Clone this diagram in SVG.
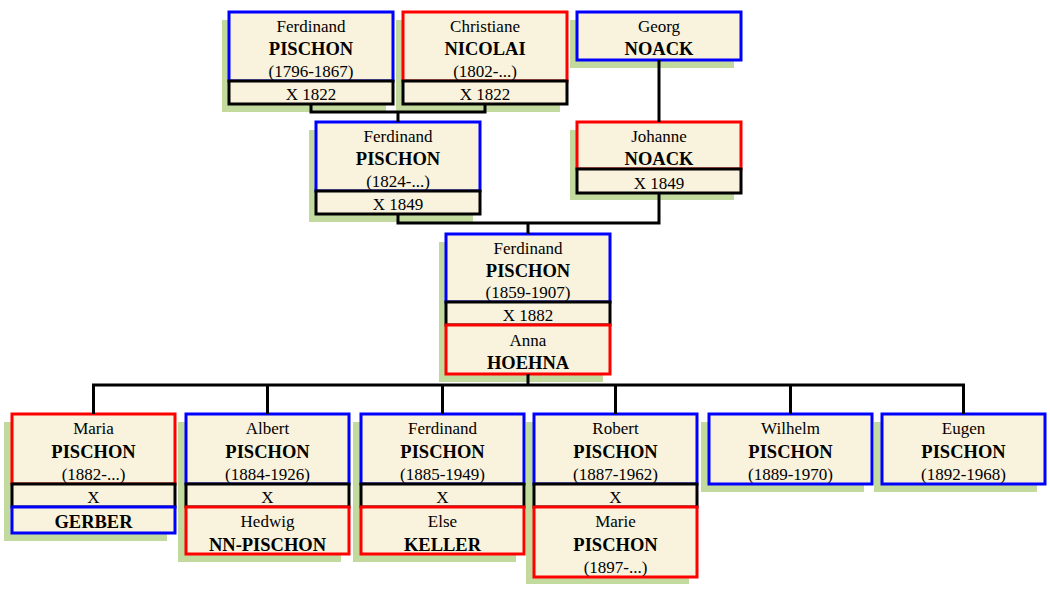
<svg xmlns="http://www.w3.org/2000/svg" width="1050" height="610" viewBox="0 0 1050 610" font-family="'Liberation Serif', 'DejaVu Serif', serif">
<style>
.sh{fill:#c3da9e}
.b{fill:#f9f2dc;stroke:#0000ff;stroke-width:3}
.r{fill:#f9f2dc;stroke:#ff0000;stroke-width:3}
.m{fill:#f9f2dc;stroke:#000;stroke-width:3}
text{font-family:'Liberation Serif','DejaVu Serif',serif;font-size:17px;fill:#000;text-anchor:middle}
.s{font-weight:bold;font-size:18.5px}
.c{fill:none;stroke:#000;stroke-width:3}
</style>
<rect width="1050" height="610" fill="#fff"/>
<g id="n-ferdinand-1796">
<rect class="sh" x="222" y="20" width="164" height="92"/>
<rect class="b" x="229" y="12" width="164" height="69"/>
<rect class="m" x="229" y="81" width="164" height="23"/>
<text x="311" y="32">Ferdinand</text><text class="s" x="311" y="55">PISCHON</text><text x="311" y="76.5">(1796-1867)</text><text x="311" y="100">X 1822</text>
</g>
<g id="n-christiane">
<rect class="sh" x="396" y="20" width="164" height="92"/>
<rect class="r" x="403" y="12" width="164" height="69"/>
<rect class="m" x="403" y="81" width="164" height="23"/>
<text x="485" y="32">Christiane</text><text class="s" x="485" y="55">NICOLAI</text><text x="485" y="76.5">(1802-...)</text><text x="485" y="100">X 1822</text>
</g>
<g id="n-georg">
<rect class="sh" x="570" y="20" width="164" height="48"/>
<rect class="b" x="577" y="12" width="164" height="48"/>
<text x="659" y="32">Georg</text><text class="s" x="659" y="55">NOACK</text>
</g>
<g id="n-ferdinand-1824">
<rect class="sh" x="309" y="130" width="164" height="92"/>
<rect class="b" x="316" y="122" width="164" height="69"/>
<rect class="m" x="316" y="191" width="164" height="23"/>
<text x="398" y="142">Ferdinand</text><text class="s" x="398" y="165">PISCHON</text><text x="398" y="186.5">(1824-...)</text><text x="398" y="210">X 1849</text>
</g>
<g id="n-johanne">
<rect class="sh" x="570" y="130" width="164" height="70"/>
<rect class="r" x="577" y="122" width="164" height="47"/>
<rect class="m" x="577" y="169" width="164" height="24"/>
<text x="659" y="142">Johanne</text><text class="s" x="659" y="165">NOACK</text><text x="659" y="189">X 1849</text>
</g>
<g id="n-ferdinand-1859">
<rect class="sh" x="439" y="242" width="164" height="140"/>
<rect class="b" x="446" y="234" width="164" height="68"/>
<rect class="m" x="446" y="302" width="164" height="23"/>
<rect class="r" x="446" y="325" width="164" height="49"/>
<text x="528" y="254">Ferdinand</text><text class="s" x="528" y="277">PISCHON</text><text x="528" y="298">(1859-1907)</text><text x="528" y="321">X 1882</text>
<text x="528" y="346">Anna</text><text class="s" x="528" y="369">HOEHNA</text>
</g>
<g id="n-maria">
<rect class="sh" x="4" y="422" width="163" height="119"/>
<rect class="r" x="12" y="414" width="163" height="70"/>
<rect class="m" x="12" y="484" width="163" height="23"/>
<rect class="b" x="12" y="507" width="163" height="26"/>
<text x="93.5" y="434">Maria</text><text class="s" x="93.5" y="458">PISCHON</text><text x="93.5" y="480">(1882-...)</text><text x="93.5" y="503">X</text><text class="s" x="93.5" y="528">GERBER</text>
</g>
<g id="n-albert">
<rect class="sh" x="178" y="422" width="163" height="140"/>
<rect class="b" x="186" y="414" width="163" height="70"/>
<rect class="m" x="186" y="484" width="163" height="23"/>
<rect class="r" x="186" y="507" width="163" height="47"/>
<text x="267.5" y="434">Albert</text><text class="s" x="267.5" y="458">PISCHON</text><text x="267.5" y="480">(1884-1926)</text><text x="267.5" y="503">X</text><text x="267.5" y="527">Hedwig</text><text class="s" x="267.5" y="551">NN-PISCHON</text>
</g>
<g id="n-ferdinand-1885">
<rect class="sh" x="353" y="422" width="163" height="140"/>
<rect class="b" x="361" y="414" width="163" height="70"/>
<rect class="m" x="361" y="484" width="163" height="23"/>
<rect class="r" x="361" y="507" width="163" height="47"/>
<text x="442.5" y="434">Ferdinand</text><text class="s" x="442.5" y="458">PISCHON</text><text x="442.5" y="480">(1885-1949)</text><text x="442.5" y="503">X</text><text x="442.5" y="527">Else</text><text class="s" x="442.5" y="551">KELLER</text>
</g>
<g id="n-robert">
<rect class="sh" x="526" y="422" width="163" height="162"/>
<rect class="b" x="534" y="414" width="163" height="70"/>
<rect class="m" x="534" y="484" width="163" height="23"/>
<rect class="r" x="534" y="507" width="163" height="70"/>
<text x="615.5" y="434">Robert</text><text class="s" x="615.5" y="458">PISCHON</text><text x="615.5" y="480">(1887-1962)</text><text x="615.5" y="503">X</text><text x="615.5" y="527">Marie</text><text class="s" x="615.5" y="551">PISCHON</text><text x="615.5" y="573">(1897-...)</text>
</g>
<g id="n-wilhelm">
<rect class="sh" x="701" y="422" width="163" height="70"/>
<rect class="b" x="709" y="414" width="163" height="70"/>
<text x="790.5" y="434">Wilhelm</text><text class="s" x="790.5" y="458">PISCHON</text><text x="790.5" y="480">(1889-1970)</text>
</g>
<g id="n-eugen">
<rect class="sh" x="874" y="422" width="163" height="70"/>
<rect class="b" x="882" y="414" width="163" height="70"/>
<text x="963.5" y="434">Eugen</text><text class="s" x="963.5" y="458">PISCHON</text><text x="963.5" y="480">(1892-1968)</text>
</g>
<g id="connectors">
<path class="c" d="M311,104 V112 H485 V104 M398,112 V122"/>
<path class="c" d="M659,60 V122"/>
<path class="c" d="M398,214 V223 H659 V193 M528,223 V234"/>
<path class="c" d="M528,374 V385 M93.5,414 V385 H963.5 V414 M267.5,385 V414 M442.5,385 V414 M615.5,385 V414 M790.5,385 V414"/>
</g>
</svg>
